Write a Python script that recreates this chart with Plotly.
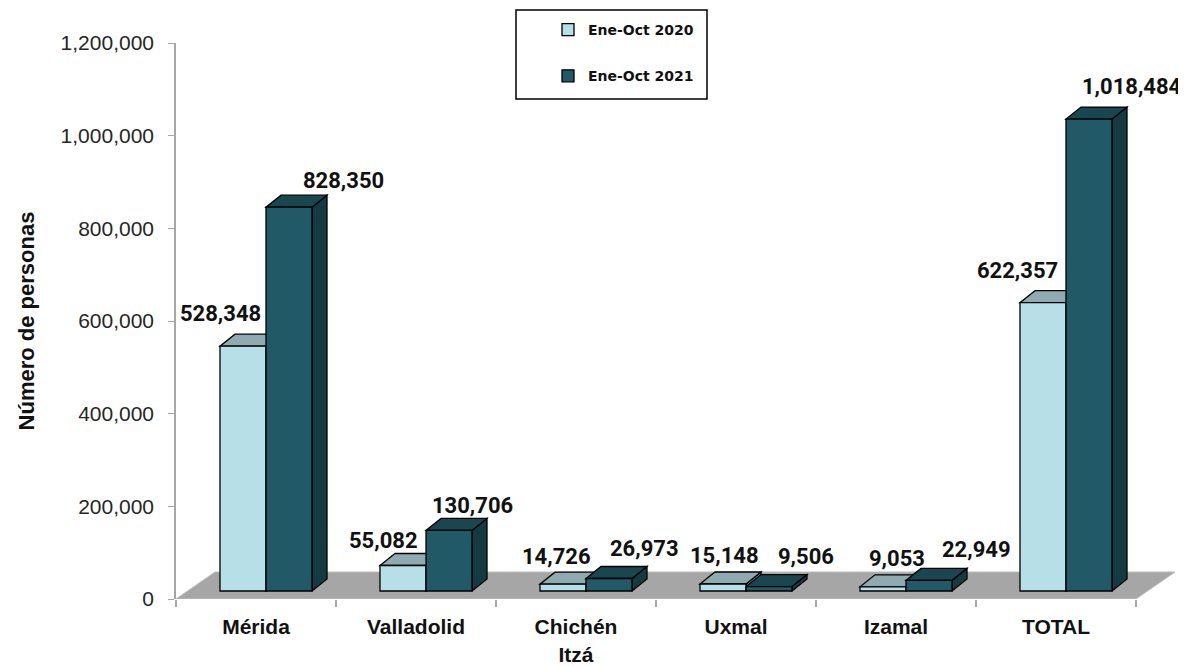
import plotly.graph_objects as go

# ---------------- data ----------------
categories = ["Mérida", "Valladolid", "Chichén<br>Itzá", "Uxmal", "Izamal", "TOTAL"]
series_names = ["Ene-Oct 2020", "Ene-Oct 2021"]
values_2020 = [528348, 55082, 14726, 15148, 9053, 622357]
values_2021 = [828350, 130706, 26973, 9506, 22949, 1018484]
y_ticks = [0, 200000, 400000, 600000, 800000, 1000000, 1200000]

# label placement tweaks (pixels) – style, not data
lab_dx_2020 = [-23, -20, -7, 1, 14, -26]
lab_dx_2021 = [54, 23, 35, 37, 47, 43]
lab_dy_2020 = [21, 13, 16, 16, 16, 20]
lab_dy_2021 = [15, 13, 18, 18, 19, 21]

# ---------------- geometry (pixels -> data units) ----------------
PAGE_OFF = 8                   # default body margin of the html page
W, H = 1186 - PAGE_OFF, 667 - PAGE_OFF
ML, MR, MT, MB = 176 - PAGE_OFF, 0, 43 - PAGE_OFF, 68
PW, PH = W - ML - MR, H - MT - MB
PX_PER_CAT = 160.0
YMAX = 1200000
XR = [-0.5, -0.5 + PW / PX_PER_CAT]
ux = 1.0 / PX_PER_CAT          # data units per px (x)
uy = YMAX / PH                 # data units per px (y)


def paper_x(page_x):
    return (page_x - PAGE_OFF - ML) / PW


def paper_y(page_y):
    return (H - MB - (page_y - PAGE_OFF)) / PH


BW = 46 * ux                   # bar width
SHIFT = 10 * ux                # pair shift from category centre
BASE = 8 * uy                  # bar base lifted above front floor edge
DX, DY = 15 * ux, 12 * uy      # bar depth
FDX, FDY = 39 * ux, 27 * uy    # floor depth

c_light = "#B7DFE8"; c_light_top = "#8FAAB1"; c_light_side = "#7E9CA3"
c_dark = "#215966"; c_dark_top = "#1A4650"; c_dark_side = "#163A42"

n = len(categories)
pos20 = [i + SHIFT - BW / 2 for i in range(n)]
pos21 = [i + SHIFT + BW / 2 for i in range(n)]

fig = go.Figure()
fig.add_trace(go.Bar(x=pos20, y=values_2020, base=BASE, width=BW, name=series_names[0],
                     marker=dict(color=c_light, line=dict(color="black", width=1.3)),
                     legendgroup="a", hoverinfo="skip"))
fig.add_trace(go.Bar(x=pos21, y=values_2021, base=BASE, width=BW, name=series_names[1],
                     marker=dict(color=c_dark, line=dict(color="black", width=1.3)),
                     legendgroup="b", hoverinfo="skip"))
# helper trace so the tick-only axis x2 is drawn
fig.add_trace(go.Scatter(x=[XR[0]], y=[0], xaxis="x2", mode="markers",
                         marker=dict(opacity=0), showlegend=False, hoverinfo="skip"))

shapes = []
# floor
fl = f"M {-0.5},{0} L {n - 0.5},{0} L {n - 0.5 + FDX},{FDY} L {-0.5 + FDX},{FDY} Z"
shapes.append(dict(type="path", path=fl, xref="x", yref="y", fillcolor="#A6A6A6",
                   line=dict(color="#BDBDBD", width=1), layer="below"))


def faces(xc, v, ctop, cside):
    xl, xr = xc - BW / 2, xc + BW / 2
    top = BASE + v
    side = f"M {xr},{BASE} L {xr + DX},{BASE + DY} L {xr + DX},{top + DY} L {xr},{top} Z"
    tp = f"M {xl},{top} L {xr},{top} L {xr + DX},{top + DY} L {xl + DX},{top + DY} Z"
    return [dict(type="path", path=side, xref="x", yref="y", fillcolor=cside,
                 line=dict(color="black", width=1.3), layer="below"),
            dict(type="path", path=tp, xref="x", yref="y", fillcolor=ctop,
                 line=dict(color="black", width=1.3), layer="below")]


for i in range(n):
    shapes += faces(pos20[i], values_2020[i], c_light_top, c_light_side)
    shapes += faces(pos21[i], values_2021[i], c_dark_top, c_dark_side)

# legend frame
shapes.append(dict(type="rect", xref="paper", yref="paper",
                   x0=paper_x(516), x1=paper_x(707), y0=paper_y(99), y1=paper_y(10),
                   line=dict(color="black", width=1.5), fillcolor="rgba(0,0,0,0)", layer="above"))

annotations = []
lab_font = dict(family="Roboto", size=22, color="#111111", weight="bold")
for i in range(n):
    for xs, vals, dxs, dys in ((pos20, values_2020, lab_dx_2020, lab_dy_2020),
                               (pos21, values_2021, lab_dx_2021, lab_dy_2021)):
        annotations.append(dict(x=xs[i], y=BASE + vals[i] + DY, xref="x", yref="y",
                                text=f"{vals[i]:,}", showarrow=False, font=lab_font,
                                xanchor="center", yanchor="middle",
                                xshift=dxs[i], yshift=dys[i]))

fig.update_layout(
    width=W, height=H, margin=dict(l=ML, r=MR, t=MT, b=MB, autoexpand=False),
    paper_bgcolor="white", plot_bgcolor="white",
    barmode="overlay", shapes=shapes, annotations=annotations,
    xaxis=dict(range=XR, tickvals=list(range(n)), ticktext=categories, automargin=False,
               showgrid=False, zeroline=False, showline=False,
               ticks="outside", ticklen=9, tickcolor="rgba(0,0,0,0)",
               tickfont=dict(family="Liberation Sans", size=21, color="#111111", weight="bold")),
    xaxis2=dict(range=XR, overlaying="x", side="bottom", showticklabels=False, automargin=False,
                tickvals=[i - 0.5 for i in range(n + 1)], ticks="outside", ticklen=7,
                tickcolor="#A6A6A6", tickwidth=1.5, showgrid=False, zeroline=False, showline=False),
    yaxis=dict(range=[0, YMAX], tickvals=y_ticks, tickformat=",", automargin=False,
               showgrid=False, zeroline=False, showline=True, linecolor="#A6A6A6", linewidth=1.5,
               ticks="outside", ticklen=6, tickcolor="#A6A6A6", ticklabelstandoff=10,
               tickfont=dict(family="Liberation Sans", size=21, color="#262626"),
               title=dict(text="Número de personas", standoff=20,
                          font=dict(family="Liberation Sans", size=22, color="#111111", weight="bold"))),
    legend=dict(x=paper_x(548), y=paper_y(14), xanchor="left", yanchor="top",
                bgcolor="rgba(0,0,0,0)", borderwidth=0, tracegroupgap=25,
                font=dict(family="DejaVu Sans", size=14, color="#111111", weight="bold")),
    showlegend=True,
)

fig.write_html("out.html")
